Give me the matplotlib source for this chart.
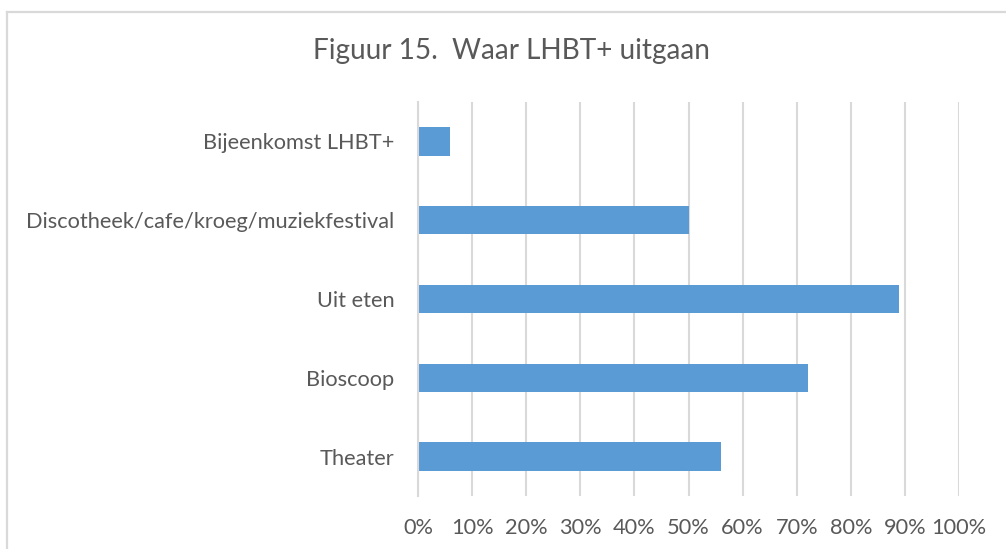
import matplotlib
matplotlib.use("Agg")
import matplotlib.pyplot as plt
from matplotlib.lines import Line2D
from matplotlib.ticker import PercentFormatter

# Data (share of respondents)
categories = ["Theater", "Bioscoop", "Uit eten",
              "Discotheek/cafe/kroeg/muziekfestival", "Bijeenkomst LHBT+"]
values = [0.56, 0.72, 0.89, 0.50, 0.06]
xticks = [i / 10 for i in range(11)]

text_color = "#595959"
grid_color = "#D9D9D9"
bar_color = "#5B9BD5"

plt.rcParams["font.family"] = ["Lato", "DejaVu Sans"]

W, H = 1006, 549
fig = plt.figure(figsize=(W / 100, H / 100), dpi=100)
ax = fig.add_axes([418 / W, 53 / H, 541 / W, 394 / H])

ax.barh(range(len(categories)), values, height=0.36, color=bar_color, zorder=3)

ax.set_xlim(0, 1)
ax.set_ylim(-0.5, len(categories) - 0.5)
ax.set_xticks(xticks)
ax.xaxis.set_major_formatter(PercentFormatter(1.0, decimals=0))
ax.set_yticks(range(len(categories)))
ax.set_yticklabels(categories)

ax.grid(axis="x", color=grid_color, linewidth=1.5, zorder=0)
for side in ["top", "right", "bottom"]:
    ax.spines[side].set_visible(False)
ax.spines["left"].set_color(grid_color)
ax.spines["left"].set_linewidth(1.5)
ax.spines["left"].set_zorder(4)

ax.tick_params(axis="both", length=0, labelsize=15.7, labelcolor=text_color)
ax.tick_params(axis="y", pad=17)
ax.tick_params(axis="x", pad=16)

fig.text(511 / W, 1 - 51 / H, "Figuur 15.  Waar LHBT+ uitgaan",
         ha="center", va="center", fontsize=20.2, color=text_color)

# chart frame (only top and left edges visible in the crop)
fig.add_artist(Line2D([7 / W, 7 / W], [0, 1 - 12 / H], transform=fig.transFigure,
                      color=grid_color, linewidth=1.6))
fig.add_artist(Line2D([7 / W, 1], [1 - 12 / H, 1 - 12 / H], transform=fig.transFigure,
                      color=grid_color, linewidth=1.6))

fig.savefig("out.png", dpi=100)
